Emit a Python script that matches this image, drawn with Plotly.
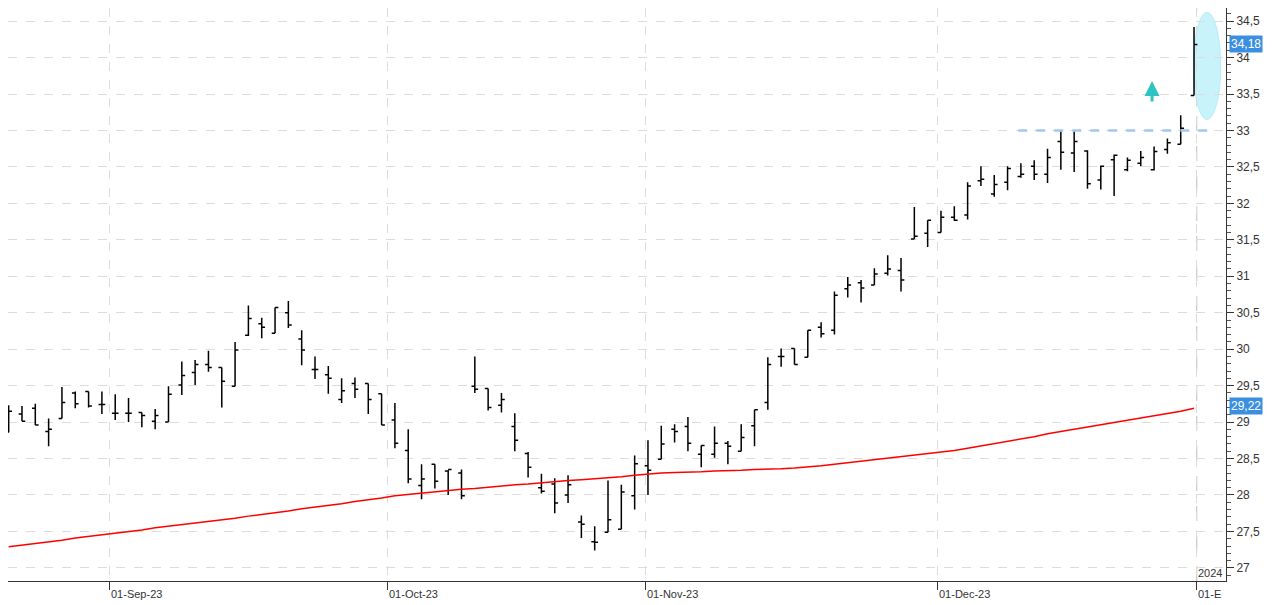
import plotly.graph_objects as go

opens = [28.86,29.11,29.19,28.87,29.05,29.40,29.42,29.24,29.12,29.12,29.13,29.01,29.00,29.51,29.68,29.79,29.75,29.49,30.19,30.35,
         30.22,30.50,30.14,29.72,29.65,29.31,29.53,29.53,29.39,29.03,28.61,28.13,28.42,28.33,28.30,29.49,29.46,29.23,28.94,28.57,
         28.10,28.15,28.00,27.63,27.36,27.49,27.53,27.99,28.40,28.49,28.90,28.94,28.56,28.56,28.71,28.60,28.95,29.27,29.90,30.01,
         29.89,30.30,30.26,30.83,30.91,30.88,31.04,31.08,31.51,31.59,31.60,31.81,31.84,32.31,32.13,32.29,32.37,32.51,32.40,32.85,
         32.69,32.72,32.32,32.60,32.46,32.55,32.46,32.74,32.81,33.48]
highs = [29.23,29.22,29.25,29.05,29.48,29.42,29.42,29.42,29.38,29.33,29.13,29.18,29.49,29.83,29.85,29.98,29.75,30.10,30.60,30.43,
         30.57,30.66,30.26,29.90,29.77,29.60,29.61,29.53,29.39,29.26,28.90,28.42,28.42,28.34,28.35,29.90,29.46,29.40,29.12,28.59,
         28.29,28.23,28.27,27.72,27.57,28.20,28.14,28.54,28.75,28.95,28.97,29.07,28.68,28.94,28.74,28.97,29.17,29.89,30.01,30.01,
         30.26,30.37,30.79,30.99,30.95,31.11,31.29,31.25,31.95,31.77,31.90,31.96,32.29,32.51,32.39,32.51,32.55,32.59,32.75,32.99,
         32.99,32.73,32.52,32.67,32.63,32.72,32.78,32.89,33.21,34.42]
lows = [28.86,29.01,28.96,28.67,29.05,29.19,29.20,29.11,29.03,29.00,28.93,28.90,29.00,29.37,29.51,29.69,29.20,29.49,30.18,30.15,
        30.22,30.29,29.78,29.59,29.39,29.26,29.33,29.11,28.96,28.64,28.16,27.94,28.09,28.00,27.94,29.40,29.16,29.13,28.60,28.24,
        28.02,27.75,27.89,27.41,27.24,27.49,27.53,27.80,28.00,28.49,28.72,28.60,28.38,28.51,28.42,28.60,28.67,29.17,29.76,29.79,
        29.89,30.16,30.20,30.71,30.64,30.88,31.01,30.79,31.51,31.40,31.60,31.76,31.78,32.24,32.09,32.18,32.35,32.32,32.28,32.46,
        32.43,32.20,32.19,32.10,32.44,32.51,32.45,32.68,32.81,33.48]
closes = [29.15,29.01,28.96,28.90,29.27,29.25,29.22,29.24,29.12,29.12,29.09,29.09,29.38,29.64,29.79,29.75,29.56,29.99,30.42,30.30,
          30.57,30.33,29.99,29.72,29.60,29.43,29.45,29.31,28.96,28.71,28.22,28.22,28.19,28.35,27.99,29.45,29.20,29.31,28.75,28.38,
          28.05,27.89,28.14,27.60,27.35,27.66,28.04,28.43,28.34,28.70,28.87,28.71,28.68,28.71,28.67,28.79,29.17,29.79,29.90,29.79,
          30.26,30.21,30.74,30.88,30.84,31.03,31.10,30.95,31.55,31.77,31.81,31.77,32.24,32.33,32.26,32.48,32.40,32.40,32.63,32.70,
          32.85,32.27,32.51,32.66,32.59,32.63,32.71,32.83,33.03,34.18]
ma = [27.29,27.31,27.33,27.36,27.38,27.41,27.43,27.45,27.48,27.50,27.52,27.55,27.57,27.59,27.61,27.63,27.66,27.68,27.71,27.73,
      27.76,27.78,27.81,27.83,27.86,27.88,27.91,27.93,27.96,27.99,28.01,28.03,28.05,28.06,28.08,28.09,28.11,28.12,28.14,28.15,
      28.17,28.18,28.20,28.21,28.22,28.23,28.25,28.27,28.29,28.30,28.31,28.31,28.32,28.33,28.33,28.34,28.35,28.35,28.36,28.37,
      28.38,28.40,28.42,28.44,28.46,28.48,28.50,28.52,28.54,28.56,28.58,28.61,28.64,28.67,28.71,28.74,28.77,28.80,28.84,28.87,
      28.90,28.93,28.96,28.99,29.02,29.05,29.09,29.12,29.15,29.19,29.22]
idx = list(range(len(closes)))

tick_pos = [7.6, 28.45, 47.85, 69.75, 89.2]
tick_text = ["01-Sep-23", "01-Oct-23", "01-Nov-23", "01-Dec-23", "01-E"]
y_ticks = [27, 27.5, 28, 28.5, 29, 29.5, 30, 30.5, 31, 31.5, 32, 32.5, 33, 33.5, 34, 34.5]
last_price = 34.18
last_ma = 29.22
resistance = 33.0

fig = go.Figure()
fig.add_trace(go.Scatter(x=idx, y=ma, mode="lines", line=dict(color="#ff0000", width=1.5), hoverinfo="skip"))
fig.add_trace(go.Ohlc(x=idx, open=opens, high=highs, low=lows, close=closes,
                      increasing=dict(line=dict(color="black", width=1.5)),
                      decreasing=dict(line=dict(color="black", width=1.5)), tickwidth=0.25))

fig.add_shape(type="circle", x0=88.95, x1=91.0, y0=33.15, y1=34.62, fillcolor="#c8f3fb",
              line=dict(color="#b4eef8", width=1), layer="below")
fig.add_shape(type="line", x0=75.8, x1=90.1, y0=resistance, y1=resistance,
              line=dict(color="#a4c6ee", width=2.5, dash="dash"))
fig.add_shape(type="line", x0=89.2, x1=89.2, y0=0, y1=1, yref="paper",
              line=dict(color="#c8c8c8", width=1.2, dash="longdash"), layer="below")
fig.add_annotation(x=85.85, y=33.68, ax=0, ay=22, showarrow=True, arrowhead=2, arrowsize=1.0,
                   arrowwidth=3, arrowcolor="#2ec4c4", text="")

for tp, tt in zip(tick_pos, tick_text):
    fig.add_annotation(x=tp, y=-0.003, xref="x", yref="paper", text=tt, showarrow=False,
                       xanchor="left", yanchor="top", xshift=-1, yshift=-3,
                       font=dict(family="Liberation Sans, Arial", size=11, color="#333"))
fig.add_annotation(x=89.2, y=0, yref="paper", text="2024", showarrow=False, xanchor="left", yanchor="bottom",
                   xshift=-1, font=dict(family="Liberation Sans, Arial", size=11, color="#333"))

for val, txt in [(last_price, "34,18"), (last_ma, "29,22")]:
    fig.add_annotation(x=1, xref="paper", y=val, text=txt, showarrow=False, xanchor="left", xshift=3,
                       bgcolor="#3b8fe0", font=dict(family="Liberation Sans, Arial", size=12, color="white"),
                       borderpad=1)

fig.update_layout(
    width=1281, height=605, margin=dict(l=0, r=63, t=0, b=32),
    paper_bgcolor="white", plot_bgcolor="white", showlegend=False, separators=",.",
    xaxis=dict(range=[-0.05, 91.4], rangeslider=dict(visible=False), tickvals=tick_pos,
               ticktext=["", "", "", "", ""], ticks="outside", ticklen=8, tickcolor="#333",
               showgrid=True, gridcolor="#dcdcdc", griddash="dash", zeroline=False,
               showline=True, linecolor="#333", linewidth=1),
    yaxis=dict(range=[26.82, 34.68], side="right", tickvals=y_ticks, ticks="outside", ticklen=7,
               tickcolor="#333", showgrid=True, gridcolor="#dcdcdc", griddash="dash", zeroline=False,
               showline=True, linecolor="#333", linewidth=1,
               tickfont=dict(family="Liberation Sans, Arial", size=12, color="#333"),
               minor=dict(dtick=0.1, ticks="outside", ticklen=4, tickcolor="#555", showgrid=False)),
)
fig.write_html("out.html")
